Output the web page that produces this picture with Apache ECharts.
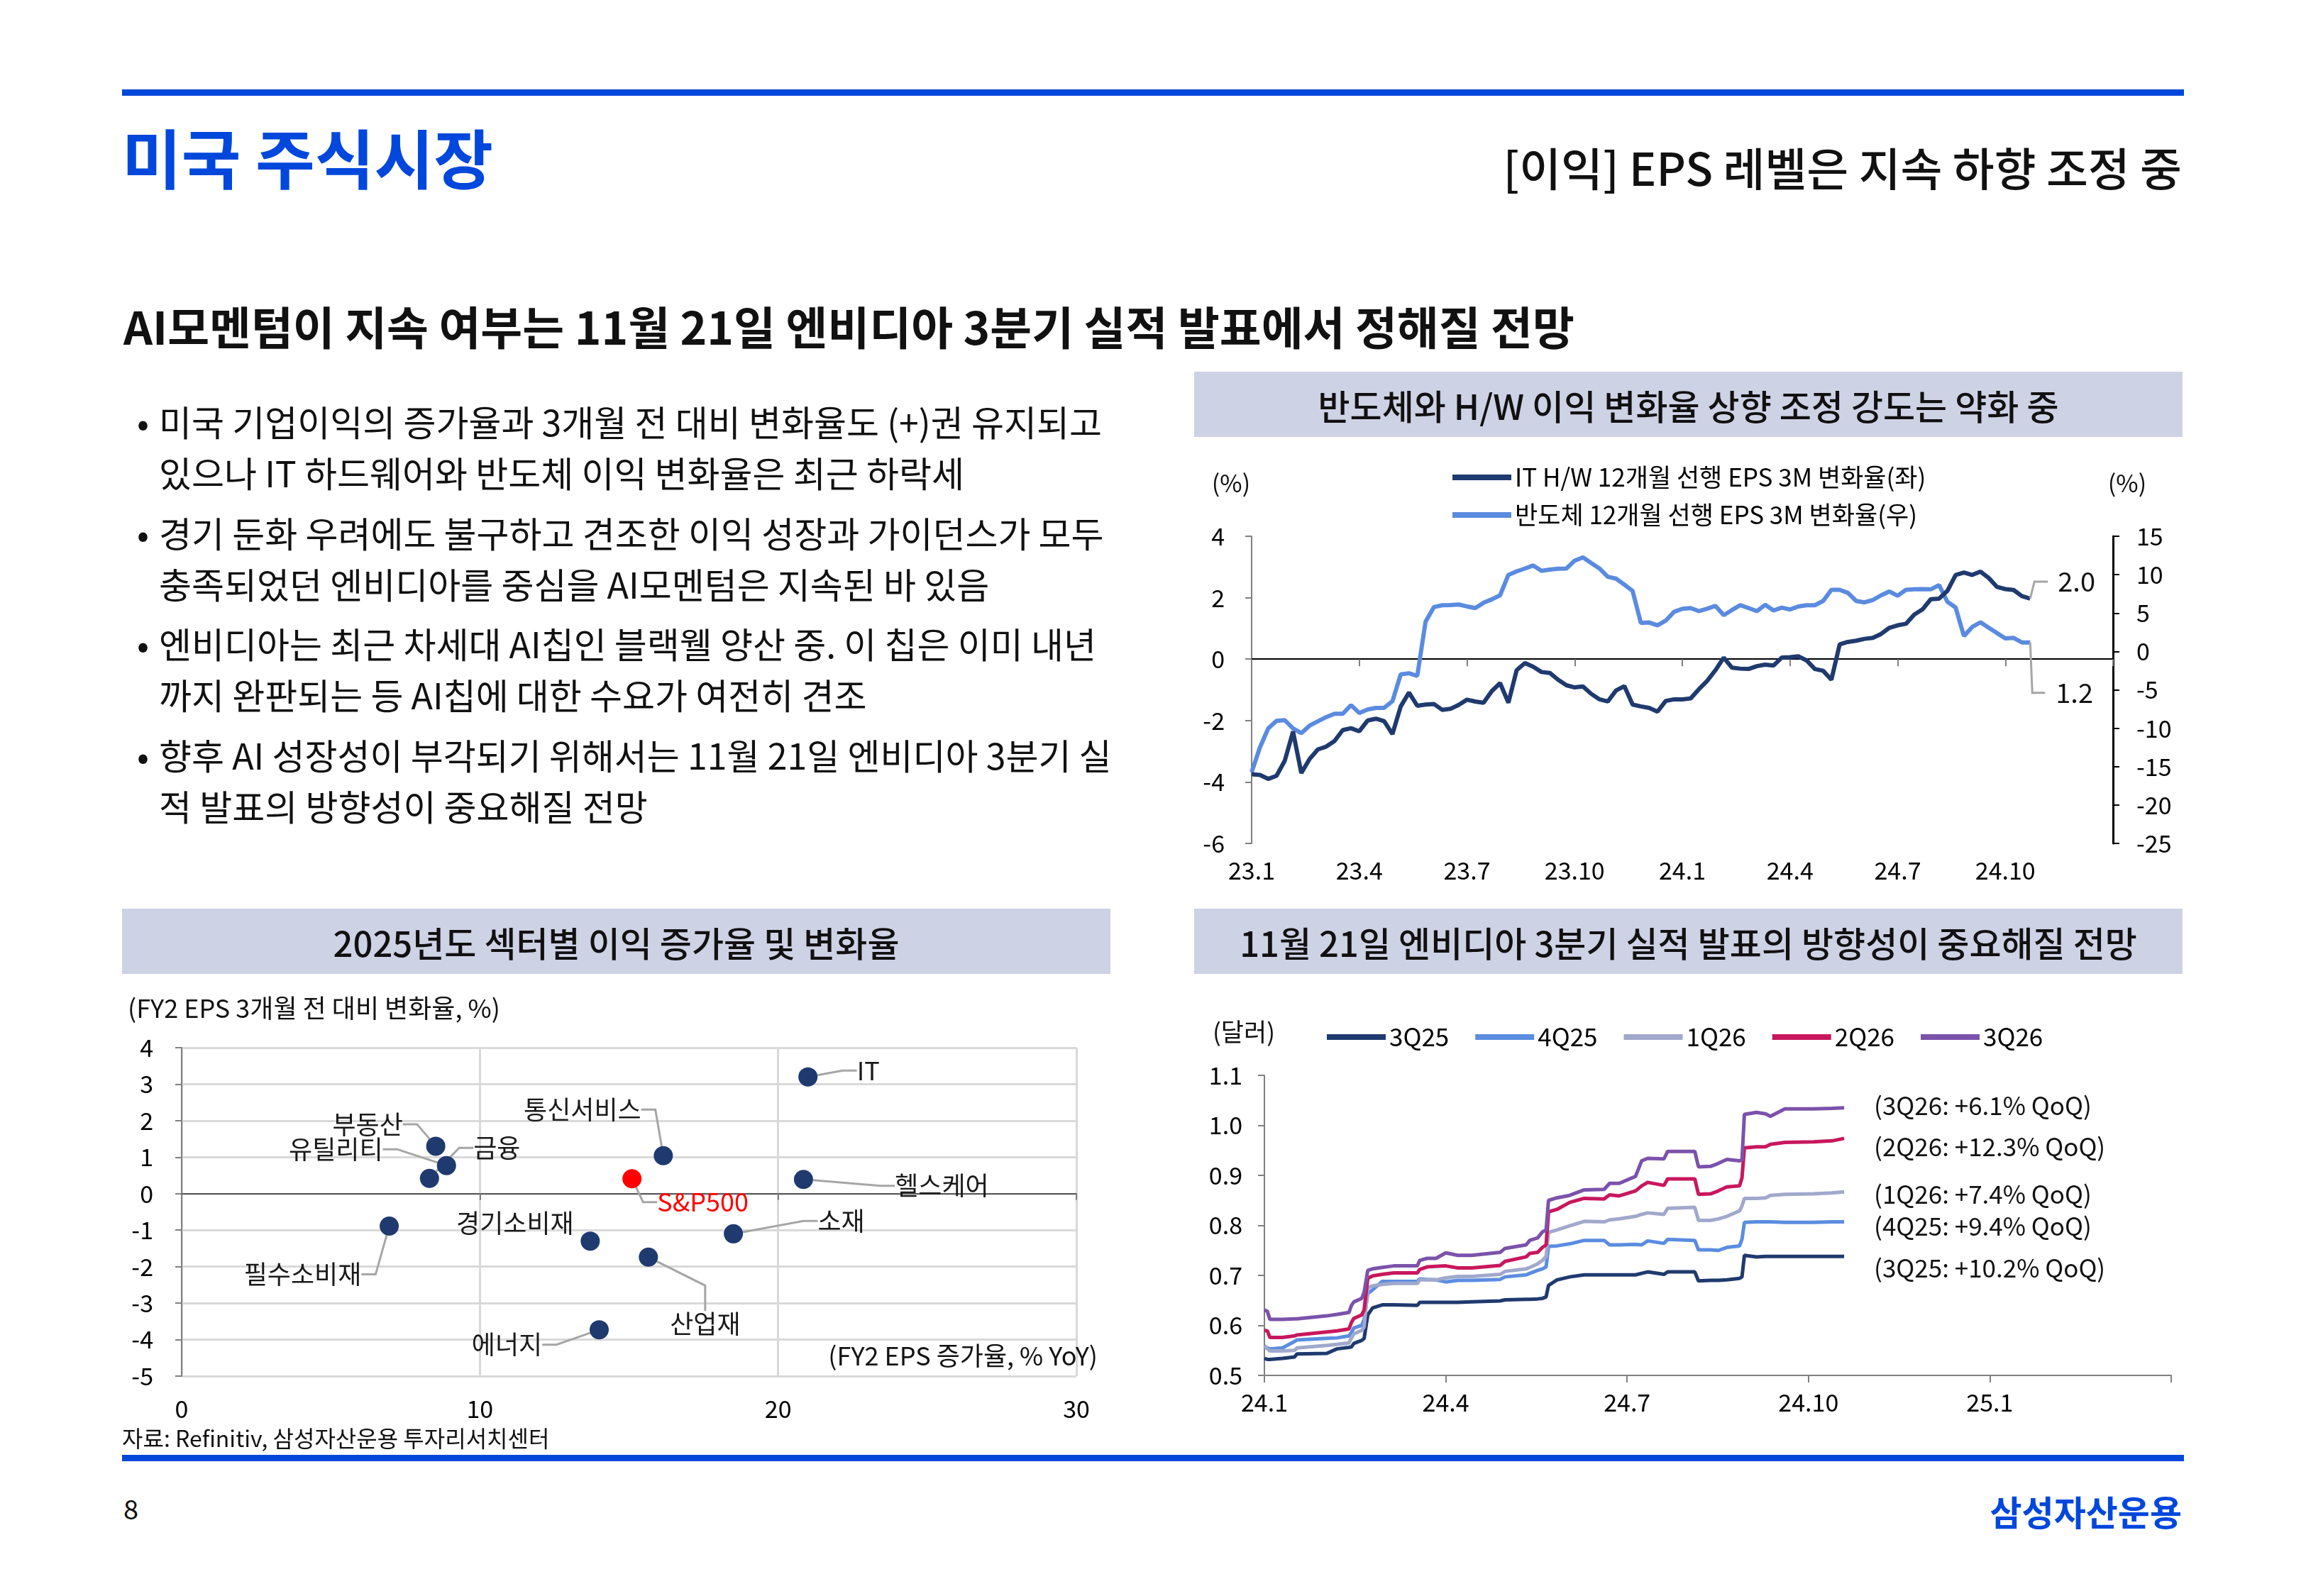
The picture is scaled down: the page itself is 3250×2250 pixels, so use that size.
<!DOCTYPE html>
<html>
<head>
<meta charset="utf-8">
<script src="https://cdn.jsdelivr.net/npm/echarts@6/dist/echarts.min.js"></script>
<style>
  html, body { margin: 0; padding: 0; }
  body { width: 3250px; height: 2250px; background: #fff; position: relative; overflow: hidden;
         font-family: "Noto Sans CJK KR", "Noto Sans", sans-serif; color: #111; }
  .t { position: absolute; white-space: nowrap; line-height: 1.2; z-index: 5; }
  .bar { position: absolute; left: 172px; width: 2906px; height: 9px; background: #0047DC; z-index: 5; }
  .tbox { position: absolute; height: 92px; width: 1393px; background: #CED2E5; display: flex; align-items: center;
          justify-content: center; font-size: 49px; font-weight: 500; color: #111; z-index: 5; }
  .para { position: absolute; left: 224px; font-size: 50px; line-height: 72px; white-space: nowrap; z-index: 5; }
  .para::before { content: "•"; position: absolute; left: -31px; top: 0; }
  .chart { position: absolute; z-index: 1; }
</style>
</head>
<body>

<div class="bar" style="top:126px"></div>
<div class="t" style="left:172px;top:220px;transform:translateY(-50%);font-size:91px;font-weight:700;color:#0047DC">미국 주식시장</div>
<div class="t" style="right:175px;top:234px;transform:translateY(-50%);font-size:64px;font-weight:500;color:#111">[이익] EPS 레벨은 지속 하향 조정 중</div>
<div class="t" style="left:174px;top:458px;transform:translateY(-50%);font-size:64px;font-weight:700;color:#111">AI모멘텀이 지속 여부는 11월 21일 엔비디아 3분기 실적 발표에서 정해질 전망</div>

<div class="para" style="top:557px">미국 기업이익의 증가율과 3개월 전 대비 변화율도 (+)권 유지되고<br>있으나 IT 하드웨어와 반도체 이익 변화율은 최근 하락세</div>
<div class="para" style="top:714px">경기 둔화 우려에도 불구하고 견조한 이익 성장과 가이던스가 모두<br>충족되었던 엔비디아를 중심을 AI모멘텀은 지속된 바 있음</div>
<div class="para" style="top:870px">엔비디아는 최근 차세대 AI칩인 블랙웰 양산 중. 이 칩은 이미 내년<br>까지 완판되는 등 AI칩에 대한 수요가 여전히 견조</div>
<div class="para" style="top:1027px">향후 AI 성장성이 부각되기 위해서는 11월 21일 엔비디아 3분기 실<br>적 발표의 방향성이 중요해질 전망</div>

<div class="tbox" style="left:1683px;top:524px">반도체와 H/W 이익 변화율 상향 조정 강도는 약화 중</div>
<div class="tbox" style="left:172px;top:1281px">2025년도 섹터별 이익 증가율 및 변화율</div>
<div class="tbox" style="left:1683px;top:1281px">11월 21일 엔비디아 3분기 실적 발표의 방향성이 중요해질 전망</div>

<div id="c1" class="chart" style="left:1683px;top:620px;width:1393px;height:640px"></div>
<div id="c2" class="chart" style="left:172px;top:1372px;width:1393px;height:680px"></div>
<div id="c3" class="chart" style="left:1683px;top:1372px;width:1393px;height:680px"></div>

<div class="t" style="left:1735px;top:680px;transform:translate(-50%,-50%);font-size:34px">(%)</div>
<div class="t" style="left:2998px;top:680px;transform:translate(-50%,-50%);font-size:34px">(%)</div>
<div class="t" style="left:180px;top:1420px;transform:translateY(-50%);font-size:36px">(FY2 EPS 3개월 전 대비 변화율, %)</div>
<div class="t" style="left:1547px;top:1910px;transform:translate(-100%,-50%);font-size:36px">(FY2 EPS 증가율, % YoY)</div>
<div class="t" style="left:1753px;top:1453px;transform:translate(-50%,-50%);font-size:35px">(달러)</div>
<div class="t" style="left:172px;top:2026px;transform:translateY(-50%);font-size:32px">자료: Refinitiv, 삼성자산운용 투자리서치센터</div>

<div class="bar" style="top:2051px"></div>
<div class="t" style="left:174px;top:2126px;transform:translateY(-50%);font-size:38px">8</div>
<div class="t" style="right:175px;top:2130px;transform:translateY(-50%);font-size:49px;font-weight:700;color:#0047DC">삼성자산운용</div>

<script>
const FONT = '"Noto Sans CJK KR", "Noto Sans", sans-serif';

/* ---------- Chart 1: weekly 3M change of 12M forward EPS ---------- */
const quarterLabels1 = ['23.1', '23.4', '23.7', '23.10', '24.1', '24.4', '24.7', '24.10'];
const itHwEps3m = [
  -3.75, -3.77, -3.90, -3.80, -3.31, -2.36, -3.71, -3.25, -2.94, -2.85,
  -2.67, -2.31, -2.25, -2.35, -2.00, -1.94, -2.02, -2.44, -1.54, -1.09,
  -1.52, -1.48, -1.46, -1.65, -1.62, -1.49, -1.32, -1.38, -1.42, -1.04,
  -0.78, -1.42, -0.36, -0.13, -0.25, -0.42, -0.45, -0.67, -0.85, -0.92,
  -0.89, -1.13, -1.31, -1.38, -1.02, -0.88, -1.48, -1.54, -1.59, -1.71,
  -1.36, -1.31, -1.31, -1.28, -0.98, -0.71, -0.36, 0.05, -0.28, -0.31,
  -0.32, -0.23, -0.18, -0.21, 0.05, 0.06, 0.09, -0.04, -0.32, -0.38,
  -0.67, 0.48, 0.56, 0.60, 0.66, 0.69, 0.82, 1.02, 1.10, 1.15,
  1.45, 1.62, 1.95, 1.97, 2.22, 2.74, 2.82, 2.74, 2.85, 2.64,
  2.35, 2.28, 2.25, 2.05, 1.97
];
const semiEps3m = [
  -15.74, -12.50, -10.03, -9.04, -8.95, -10.03, -10.65, -9.66, -9.10, -8.55,
  -8.12, -8.12, -7.00, -8.02, -7.56, -7.35, -7.35, -6.48, -2.99, -2.84,
  -3.18, 3.86, 5.77, 6.02, 6.05, 6.11, 5.86, 5.65, 6.33, 6.79,
  7.31, 9.97, 10.43, 10.80, 11.20, 10.49, 10.65, 10.77, 10.80, 11.82,
  12.25, 11.51, 10.80, 9.72, 9.48, 8.70, 7.87, 3.70, 3.77, 3.40,
  4.01, 5.15, 5.56, 5.65, 5.25, 5.56, 5.93, 4.72, 5.40, 6.02,
  5.65, 5.25, 6.08, 5.34, 5.71, 5.46, 5.86, 6.02, 6.02, 6.57,
  8.02, 8.02, 7.62, 6.57, 6.39, 6.70, 7.31, 7.81, 7.25, 8.02,
  8.09, 8.12, 8.09, 8.64, 6.48, 5.71, 2.01, 3.18, 3.80, 3.09,
  2.38, 1.70, 1.76, 1.17, 1.17
];
const seriesNames1 = ['IT H/W 12개월 선행 EPS 3M 변화율(좌)', '반도체 12개월 선행 EPS 3M 변화율(우)'];

/* ---------- Chart 2: sector scatter ---------- */
const sectors = ['IT', '통신서비스', '부동산', '유틸리티', '금융', 'S&P500', '헬스케어', '필수소비재', '경기소비재', '소재', '산업재', '에너지'];
const fy2EpsGrowth = [21.0, 16.15, 8.52, 8.88, 8.31, 15.1, 20.85, 6.96, 13.7, 18.5, 15.65, 14.0];
const fy2EpsRevision = [3.2, 1.04, 1.30, 0.77, 0.42, 0.41, 0.39, -0.89, -1.30, -1.10, -1.74, -3.73];
const xTicks2 = [0, 10, 20, 30];

/* ---------- Chart 3: NVDA quarterly EPS estimates ---------- */
const quarterLabels3 = ['24.1', '24.4', '24.7', '24.10', '25.1'];
const monthsSinceJan24 = [
  0.00, 0.05, 0.09, 0.30, 0.50, 0.54, 1.03, 1.20, 1.40, 1.44,
  1.48, 1.61, 1.65, 1.71, 1.79, 1.95, 2.14, 2.53, 2.57, 2.69,
  2.84, 3.00, 3.20, 3.43, 3.90, 3.98, 4.33, 4.39, 4.52, 4.60,
  4.66, 4.70, 4.84, 5.05, 5.29, 5.62, 5.71, 5.87, 6.14, 6.24,
  6.34, 6.61, 6.67, 7.12, 7.18, 7.38, 7.51, 7.65, 7.86, 7.90,
  7.94, 8.14, 8.29, 8.37, 8.61, 9.08, 9.39, 9.59
];
const eps3Q25 = [
  0.534, 0.532, 0.532, 0.534, 0.537, 0.543, 0.544, 0.553, 0.556, 0.557,
  0.564, 0.570, 0.574, 0.621, 0.635, 0.641, 0.641, 0.640, 0.646, 0.646,
  0.646, 0.646, 0.646, 0.647, 0.649, 0.651, 0.652, 0.652, 0.653, 0.654,
  0.657, 0.680, 0.691, 0.697, 0.701, 0.701, 0.701, 0.701, 0.701, 0.704,
  0.707, 0.702, 0.707, 0.707, 0.689, 0.690, 0.690, 0.691, 0.694, 0.697,
  0.740, 0.737, 0.738, 0.738, 0.738, 0.738, 0.738, 0.738
];
const eps4Q25 = [
  0.557, 0.555, 0.553, 0.555, 0.568, 0.571, 0.574, 0.575, 0.579, 0.586,
  0.595, 0.600, 0.612, 0.664, 0.671, 0.688, 0.688, 0.688, 0.693, 0.692,
  0.691, 0.687, 0.690, 0.690, 0.692, 0.697, 0.701, 0.704, 0.710, 0.713,
  0.717, 0.758, 0.759, 0.763, 0.770, 0.770, 0.761, 0.761, 0.762, 0.761,
  0.769, 0.764, 0.772, 0.770, 0.751, 0.751, 0.750, 0.756, 0.759, 0.772,
  0.806, 0.807, 0.807, 0.807, 0.806, 0.806, 0.807, 0.807
];
const eps1Q26 = [
  0.560, 0.553, 0.549, 0.549, 0.550, 0.555, 0.560, 0.562, 0.565, 0.575,
  0.583, 0.590, 0.597, 0.675, 0.679, 0.682, 0.684, 0.684, 0.691, 0.691,
  0.691, 0.695, 0.698, 0.698, 0.702, 0.708, 0.713, 0.716, 0.723, 0.730,
  0.738, 0.786, 0.791, 0.799, 0.808, 0.807, 0.811, 0.813, 0.818, 0.822,
  0.825, 0.822, 0.834, 0.836, 0.810, 0.810, 0.813, 0.818, 0.829, 0.839,
  0.854, 0.854, 0.855, 0.860, 0.862, 0.863, 0.865, 0.867
];
const eps2Q26 = [
  0.590, 0.589, 0.576, 0.576, 0.579, 0.581, 0.587, 0.589, 0.593, 0.606,
  0.614, 0.621, 0.631, 0.694, 0.699, 0.702, 0.705, 0.705, 0.712, 0.717,
  0.718, 0.719, 0.715, 0.715, 0.720, 0.728, 0.737, 0.744, 0.746, 0.756,
  0.761, 0.827, 0.832, 0.846, 0.854, 0.853, 0.861, 0.859, 0.869, 0.879,
  0.886, 0.880, 0.893, 0.893, 0.862, 0.863, 0.869, 0.877, 0.879, 0.895,
  0.955, 0.957, 0.957, 0.962, 0.966, 0.967, 0.969, 0.974
];
const eps3Q26 = [
  0.631, 0.628, 0.612, 0.612, 0.613, 0.613, 0.619, 0.622, 0.626, 0.640,
  0.647, 0.654, 0.666, 0.710, 0.713, 0.716, 0.719, 0.719, 0.730, 0.734,
  0.734, 0.745, 0.740, 0.740, 0.746, 0.754, 0.761, 0.770, 0.775, 0.787,
  0.791, 0.850, 0.855, 0.860, 0.871, 0.872, 0.884, 0.884, 0.898, 0.929,
  0.934, 0.933, 0.948, 0.948, 0.917, 0.918, 0.924, 0.932, 0.929, 0.931,
  1.022, 1.026, 1.023, 1.018, 1.033, 1.033, 1.034, 1.035
];
const quarterNames3 = ['3Q25', '4Q25', '1Q26', '2Q26', '3Q26'];
const qoqNotes = ['(3Q25: +10.2% QoQ)', '(4Q25: +9.4% QoQ)', '(1Q26: +7.4% QoQ)', '(2Q26: +12.3% QoQ)', '(3Q26: +6.1% QoQ)'];

/* ---------- styles (kept apart from data) ---------- */
const NAVY = '#1F3A6E', SKY = '#5B8BE0';
const colors3 = ['#1F3A6E', '#5B8DE0', '#A0A9CC', '#C8175D', '#7B52AB'];
const noteDy3 = [16, 6, 3, 12, -3];
const labelOffsets2 = {
  'IT': [85, -9], '통신서비스': [-114, -65], '부동산': [-96, -31], '유틸리티': [-156, -23],
  '금융': [95, -43], 'S&P500': [100, 33], '헬스케어': [195, 9], '필수소비재': [-122, 68],
  '경기소비재': [-106, -25], '소재': [152, -18], '산업재': [80, 94], '에너지': [-130, 21]
};
const noLeader2 = ['경기소비재'];
const leaderLen2 = { '산업재': 36 };
const axisTxt = { fontSize: 34, color: '#000', fontFamily: FONT };
const GRAY = '#808080';
/* end-label leader geometry for chart 1: [bend dx, label dy, line end dx, text gap] */
const endLeaderIT = [6, -24, 25, 14];
const endLeaderSemi = [3, 71, 21, 15];

/* ================= Chart 1 ================= */
const c1 = echarts.init(document.getElementById('c1'), null, { renderer: 'canvas' });
const nWeeks = 104;
const weekCats = Array.from({ length: nWeeks + 1 }, (_, i) =>
  (i % 13 === 0 && quarterLabels1[i / 13]) ? quarterLabels1[i / 13] : ('w' + i));
const isQuarter = (i) => i % 13 === 0;
const lastIdx = itHwEps3m.length - 1;

c1.setOption({
  animation: false,
  backgroundColor: 'transparent',
  textStyle: { fontFamily: FONT },
  grid: { left: 81, right: 98, top: 136, bottom: 71, containLabel: false, outerBoundsMode: 'none' },
  legend: {
    orient: 'vertical', left: 359, top: 28, itemWidth: 83, itemHeight: 8, itemGap: 13, icon: 'rect',
    data: seriesNames1,
    textStyle: { fontSize: 35, color: '#000', lineHeight: 40, fontFamily: FONT }
  },
  xAxis: [
    {
      type: 'category', data: weekCats, boundaryGap: false, position: 'bottom',
      axisLine: { show: false, onZero: false }, axisTick: { show: false },
      axisLabel: { ...axisTxt, interval: (i) => isQuarter(i), margin: 21,
                   formatter: (v) => v.charAt(0) === 'w' ? '' : v },
      splitLine: { show: false }
    },
    {
      type: 'category', data: weekCats, boundaryGap: false, position: 'bottom',
      axisLine: { show: true, onZero: true, onZeroAxisIndex: 0, lineStyle: { color: '#000', width: 2 } },
      axisTick: { show: true, interval: (i) => isQuarter(i), length: 10, lineStyle: { color: GRAY, width: 2 } },
      axisLabel: { show: false }, splitLine: { show: false }
    }
  ],
  yAxis: [
    {
      type: 'value', min: -6, max: 4, interval: 2, position: 'left',
      axisLine: { show: true, onZero: false, lineStyle: { color: GRAY, width: 2 } },
      axisTick: { show: true, length: 9, lineStyle: { color: GRAY, width: 2 } },
      axisLabel: { ...axisTxt, margin: 38 }, splitLine: { show: false }
    },
    {
      type: 'value', min: -25, max: 15, interval: 5, position: 'right',
      axisLine: { show: true, onZero: false, lineStyle: { color: '#000', width: 3 } },
      axisTick: { show: true, length: 9, lineStyle: { color: '#000', width: 2 } },
      axisLabel: { ...axisTxt, margin: 33 }, splitLine: { show: false }
    }
  ],
  series: [
    {
      name: seriesNames1[0], type: 'line', xAxisIndex: 0, yAxisIndex: 0, data: itHwEps3m,
      symbol: 'none', lineStyle: { color: NAVY, width: 6 }, itemStyle: { color: NAVY }, z: 3
    },
    {
      name: seriesNames1[1], type: 'line', xAxisIndex: 0, yAxisIndex: 1, data: semiEps3m,
      symbol: 'none', lineStyle: { color: SKY, width: 6 }, itemStyle: { color: SKY }, z: 2
    }
  ]
});

/* end-value callouts, positioned through the chart's own scales */
function endCallout(yAxisIndex, values, geo) {
  const v = values[values.length - 1];
  const p = c1.convertToPixel({ xAxisIndex: 0, yAxisIndex: yAxisIndex }, [values.length - 1, v]);
  const ly = p[1] + geo[1];
  return [
    { type: 'polyline', silent: true, z: 10,
      shape: { points: [[p[0], p[1]], [p[0] + geo[0], ly], [p[0] + geo[2], ly]] },
      style: { stroke: '#A6A6A6', lineWidth: 3, fill: null } },
    { type: 'text', silent: true, z: 10, x: p[0] + geo[2] + geo[3], y: ly,
      style: { text: v.toFixed(1), fontSize: 38, fontFamily: FONT, fill: '#111',
               textAlign: 'left', textVerticalAlign: 'middle', align: 'left', verticalAlign: 'middle' } }
  ];
}
c1.setOption({ graphic: endCallout(0, itHwEps3m, endLeaderIT).concat(endCallout(1, semiEps3m, endLeaderSemi)) });

/* ================= Chart 2 ================= */
const c2 = echarts.init(document.getElementById('c2'), null, { renderer: 'canvas' });
const scatterData = sectors.map((n, i) => {
  const item = { name: n, value: [fy2EpsGrowth[i], fy2EpsRevision[i]] };
  if (n === 'S&P500') { item.itemStyle = { color: '#FF0000' }; item.label = { color: '#FF0000' }; }
  if (noLeader2.indexOf(n) >= 0) { item.labelLine = { show: false }; }
  if (leaderLen2[n] != null) { item.labelLine = { length2: leaderLen2[n] }; }
  return item;
});
c2.setOption({
  animation: false,
  backgroundColor: 'transparent',
  textStyle: { fontFamily: FONT },
  grid: { left: 84, right: 48, top: 105, bottom: 112, containLabel: false, outerBoundsMode: 'none' },
  xAxis: [
    {
      type: 'value', min: xTicks2[0], max: xTicks2[xTicks2.length - 1], interval: 10, position: 'bottom',
      axisLine: { show: false, onZero: false }, axisTick: { show: false },
      axisLabel: { ...axisTxt, margin: 29 },
      splitLine: { show: true, lineStyle: { color: '#D9D9D9', width: 3 } }
    },
    {
      type: 'value', min: xTicks2[0], max: xTicks2[xTicks2.length - 1], interval: 10, position: 'bottom',
      axisLine: { show: true, onZero: true, lineStyle: { color: '#595959', width: 2 } },
      axisTick: { show: true, length: 9, lineStyle: { color: GRAY, width: 2 } },
      axisLabel: { show: false }, splitLine: { show: false }
    }
  ],
  yAxis: {
    type: 'value', min: -5, max: 4, interval: 1,
    axisLine: { show: true, onZero: false, lineStyle: { color: GRAY, width: 2 } },
    axisTick: { show: true, length: 9, lineStyle: { color: GRAY, width: 2 } },
    axisLabel: { ...axisTxt, margin: 40 },
    splitLine: { show: true, lineStyle: { color: '#D9D9D9', width: 3 } }
  },
  series: [{
    type: 'scatter', data: scatterData, symbolSize: 27, itemStyle: { color: NAVY, opacity: 1 },
    label: { show: true, formatter: '{b}', fontSize: 36, color: '#1a1a1a', fontFamily: FONT, padding: [0, 8] },
    labelLayout: (p) => {
      const off = labelOffsets2[sectors[p.dataIndex]] || [0, 0];
      return { x: p.rect.x + p.rect.width / 2 + off[0], y: p.rect.y + p.rect.height / 2 + off[1],
               align: 'center', verticalAlign: 'middle' };
    },
    labelLine: { show: true, length2: 20, lineStyle: { color: '#A6A6A6', width: 3 } },
    z: 3
  }]
});

/* ================= Chart 3 ================= */
const c3 = echarts.init(document.getElementById('c3'), null, { renderer: 'canvas' });
const eps3 = [eps3Q25, eps4Q25, eps1Q26, eps2Q26, eps3Q26];
c3.setOption({
  animation: false,
  backgroundColor: 'transparent',
  textStyle: { fontFamily: FONT },
  grid: { left: 99, right: 16, top: 144, bottom: 113, containLabel: false, outerBoundsMode: 'none' },
  legend: {
    left: 182, top: 65, itemWidth: 83, itemHeight: 8, itemGap: 37, icon: 'rect',
    data: quarterNames3,
    textStyle: { fontSize: 35, color: '#000', lineHeight: 40, fontFamily: FONT }
  },
  xAxis: {
    type: 'value', min: 0, max: 15, interval: 3,
    axisLine: { show: true, onZero: false, lineStyle: { color: GRAY, width: 2 } },
    axisTick: { show: true, length: 10, lineStyle: { color: GRAY, width: 2 } },
    axisLabel: { ...axisTxt, margin: 21, formatter: (v) => quarterLabels3[Math.round(v / 3)] || '' },
    splitLine: { show: false }
  },
  yAxis: {
    type: 'value', min: 0.5, max: 1.1, interval: 0.1,
    axisLine: { show: true, onZero: false, lineStyle: { color: GRAY, width: 2 } },
    axisTick: { show: true, length: 9, lineStyle: { color: GRAY, width: 2 } },
    axisLabel: { ...axisTxt, margin: 31, formatter: (v) => v.toFixed(1) },
    splitLine: { show: false }
  },
  series: quarterNames3.map((name, k) => ({
    name: name, type: 'line', symbol: 'none',
    data: monthsSinceJan24.map((m, i) => [m, eps3[k][i]]),
    lineStyle: { color: colors3[k], width: 5 }, itemStyle: { color: colors3[k] },
    endLabel: { show: true, formatter: () => qoqNotes[k], distance: 42, offset: [0, noteDy3[k]],
                fontSize: 35, color: '#111', fontFamily: FONT },
    z: 2 + k
  }))
});
</script>
</body>
</html>
